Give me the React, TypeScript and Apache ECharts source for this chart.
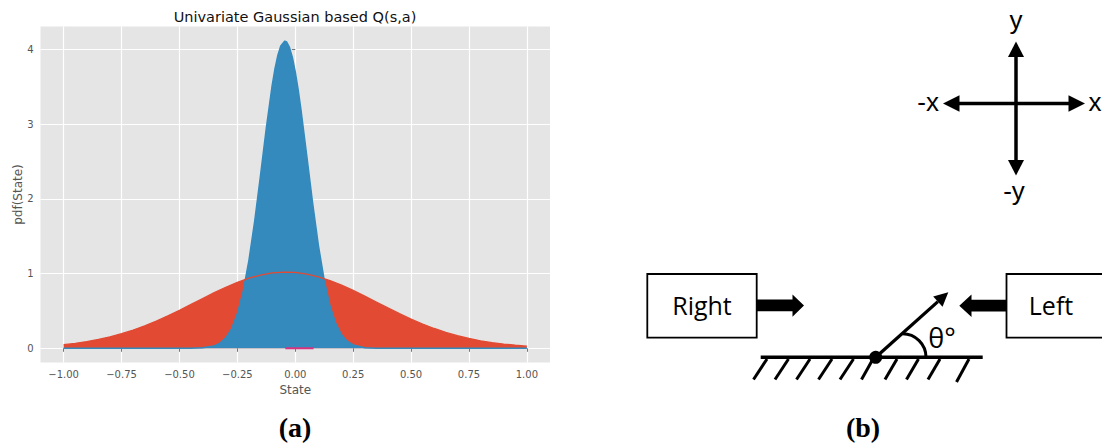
import React, { useEffect, useRef } from "react";
import * as echarts from "echarts";

// ---- Data ----
const redState = [
  -1.0, -0.95, -0.9, -0.85, -0.8, -0.75, -0.7, -0.65, -0.6, -0.55, -0.5, -0.45, -0.4, -0.35,
  -0.3, -0.25, -0.2, -0.15, -0.1, -0.05, 0.0, 0.05, 0.1, 0.15, 0.2, 0.25, 0.3, 0.35, 0.4,
  0.45, 0.5, 0.55, 0.6, 0.65, 0.7, 0.75, 0.8, 0.85, 0.9, 0.95, 1.0,
];
const redPdf = [
  0.049, 0.067, 0.09, 0.118, 0.153, 0.195, 0.244, 0.3, 0.364, 0.434, 0.508, 0.587, 0.666, 0.744,
  0.817, 0.882, 0.938, 0.98, 1.008, 1.02, 1.015, 0.993, 0.956, 0.906, 0.844, 0.774, 0.698, 0.619,
  0.54, 0.463, 0.39, 0.325, 0.265, 0.213, 0.169, 0.131, 0.1, 0.075, 0.056, 0.041, 0.029,
];
const blueState = [
  -1.0, -0.6, -0.45, -0.4, -0.35, -0.325, -0.3, -0.275, -0.25, -0.225, -0.2, -0.175, -0.15,
  -0.125, -0.1, -0.0875, -0.075, -0.0625, -0.045, -0.0375, -0.025, -0.0125, 0.0, 0.0125, 0.025,
  0.05, 0.075, 0.1, 0.125, 0.15, 0.175, 0.2, 0.225, 0.25, 0.3, 0.35, 0.4, 1.0,
];
const bluePdf = [
  0, 0, 0.001, 0.006, 0.032, 0.069, 0.139, 0.261, 0.461, 0.76, 1.177, 1.705, 2.315,
  2.945, 3.511, 3.741, 3.922, 4.045, 4.11, 4.098, 4.025, 3.89, 3.699, 3.46, 3.184,
  2.569, 1.941, 1.375, 0.912, 0.567, 0.33, 0.18, 0.092, 0.044, 0.008, 0.001, 0, 0,
];
const pinkState = [-0.043, 0.079];
const pinkPdf = [0, 0];

const xTickMin = -1;
const xTickMax = 1;
const xTickStep = 0.25;
const yTickMin = 0;
const yTickMax = 4;
const yTickStep = 1;

const titleText = "Univariate Gaussian based Q(s,a)";
const xName = "State";
const yName = "pdf(State)";

const RED = "#E24A33";
const BLUE = "#348ABD";
const PINK = "#D8327F";
const TICK = "#555555";
const FONT = "DejaVu Sans";

const zip = (a: number[], b: number[]) => a.map((v, i) => [v, b[i]]);

const fmtX = (v: number) => {
  const s = Math.abs(v).toFixed(2);
  return v < -1e-9 ? "\u2212" + s : s;
};

export default function App() {
  const ref = useRef<HTMLDivElement>(null);
  useEffect(() => {
    if (!ref.current) return;
    const chart = echarts.init(ref.current, undefined, { renderer: "svg" });

    const k = 3.5;
    const black = "#000";
    const hatchTop = [767, 788.5, 810, 832, 853.5, 873, 897, 918.5, 940, 969];
    const hatchBottom = [753.5, 775, 796.5, 818.5, 840, 861.5, 885, 906.5, 928, 956.5];
    const hatches = hatchTop.map((t, i) => ({
      type: "line",
      shape: { x1: t, y1: 359, x2: hatchBottom[i], y2: i === hatchTop.length - 1 ? 382 : 379.5 },
      style: { stroke: black, lineWidth: 3 },
    }));

    // angle arrow
    const ox = 875.7, oy = 357.3, tx = 948.3, ty = 292.3;
    const len = Math.hypot(tx - ox, ty - oy);
    const ux = (tx - ox) / len, uy = (ty - oy) / len;
    const hl = 14, hw = 7;
    const bx = tx - ux * hl, by = ty - uy * hl;
    const nx = -uy, ny = ux;

    const option: any = {
      animation: false,
      backgroundColor: "#ffffff",
      grid: [
        { left: 40.5, top: 26.5, width: 509.5, height: 336, show: true, backgroundColor: "#E5E5E5", borderWidth: 0, z: -1 },
        { left: 63.66, top: 26.5, width: 463.2, height: 336, show: false },
        { left: 40.5, top: 49.3, width: 509.5, height: 299, show: false },
      ],
      xAxis: [
        { gridIndex: 0, type: "value", min: -1.1, max: 1.1, show: false },
        {
          gridIndex: 1, type: "value", min: xTickMin, max: xTickMax, interval: xTickStep,
          axisLine: { show: false },
          axisTick: { show: true, length: k, lineStyle: { color: TICK, width: 0.8 } },
          axisLabel: { color: TICK, fontSize: 10, fontFamily: FONT, margin: 7, formatter: fmtX },
          splitLine: { show: true, lineStyle: { color: "#ffffff", width: 1.2 } },
          name: xName, nameLocation: "middle", nameGap: 20,
          nameTextStyle: { color: TICK, fontSize: 12, fontFamily: FONT },
        },
        { gridIndex: 2, type: "value", min: -1.1, max: 1.1, show: false },
      ],
      yAxis: [
        {
          gridIndex: 0, type: "value", min: -0.19, max: 4.305,
          axisLine: { show: false }, axisTick: { show: false }, axisLabel: { show: false },
          splitLine: { show: false },
          name: yName, nameLocation: "middle", nameGap: 17,
          nameTextStyle: { color: TICK, fontSize: 12, fontFamily: FONT },
        },
        { gridIndex: 1, type: "value", min: -0.19, max: 4.305, show: false },
        {
          gridIndex: 2, type: "value", min: yTickMin, max: yTickMax, interval: yTickStep,
          axisLine: { show: false },
          axisTick: { show: true, length: k, lineStyle: { color: TICK, width: 0.8 } },
          axisLabel: { color: TICK, fontSize: 10, fontFamily: FONT, margin: 7 },
          splitLine: { show: true, lineStyle: { color: "#ffffff", width: 1.2 } },
        },
      ],
      series: [
        {
          type: "line", xAxisIndex: 1, yAxisIndex: 1, data: zip(redState, redPdf),
          symbol: "none", lineStyle: { width: 0, color: RED }, itemStyle: { color: RED },
          areaStyle: { color: RED, opacity: 1 }, z: 2, silent: true,
        },
        {
          type: "line", xAxisIndex: 1, yAxisIndex: 1, data: zip(blueState, bluePdf),
          symbol: "none", lineStyle: { width: 1.5, color: BLUE }, itemStyle: { color: BLUE },
          areaStyle: { color: BLUE, opacity: 1 }, z: 3, silent: true,
        },
        {
          type: "line", xAxisIndex: 1, yAxisIndex: 1, data: zip(redState, redPdf),
          symbol: "none", lineStyle: { width: 1.3, color: RED }, itemStyle: { color: RED },
          z: 4, silent: true,
        },
        {
          type: "line", xAxisIndex: 1, yAxisIndex: 1, data: zip(pinkState, pinkPdf),
          symbol: "none", lineStyle: { width: 2, color: PINK }, itemStyle: { color: PINK },
          z: 5, silent: true,
        },
      ],
      graphic: {
        elements: [
          { type: "text", x: 295, y: 16.5, style: { text: titleText, font: `14.5px "${FONT}"`, fill: "#111", textAlign: "center", textVerticalAlign: "middle" } },
          { type: "text", x: 295, y: 427, style: { text: "(a)", font: 'bold 28px "Liberation Serif"', fill: "#000", textAlign: "center", textVerticalAlign: "middle" } },
          { type: "text", x: 863, y: 427, style: { text: "(b)", font: 'bold 28px "Liberation Serif"', fill: "#000", textAlign: "center", textVerticalAlign: "middle" } },

          // crosshair
          { type: "line", shape: { x1: 1016, y1: 52, x2: 1016, y2: 165 }, style: { stroke: black, lineWidth: 3.5 } },
          { type: "line", shape: { x1: 953, y1: 103.5, x2: 1075, y2: 103.5 }, style: { stroke: black, lineWidth: 3.5 } },
          { type: "polygon", shape: { points: [[1016, 41.5], [1008, 57], [1024, 57]] }, style: { fill: black } },
          { type: "polygon", shape: { points: [[1016, 175.5], [1008, 160], [1024, 160]] }, style: { fill: black } },
          { type: "polygon", shape: { points: [[943, 103.5], [959.5, 95.2], [959.5, 111.8]] }, style: { fill: black } },
          { type: "polygon", shape: { points: [[1085, 103.5], [1068.5, 95.2], [1068.5, 111.8]] }, style: { fill: black } },
          { type: "text", x: 1016, y: 20, style: { text: "y", font: '26px "Liberation Sans"', fill: black, textAlign: "center", textVerticalAlign: "middle" } },
          { type: "text", x: 1014, y: 191, style: { text: "-y", font: '26px "Liberation Sans"', fill: black, textAlign: "center", textVerticalAlign: "middle" } },
          { type: "text", x: 939, y: 102, style: { text: "-x", font: '26px "Liberation Sans"', fill: black, textAlign: "right", textVerticalAlign: "middle" } },
          { type: "text", x: 1101.5, y: 102, style: { text: "x", font: '26px "Liberation Sans"', fill: black, textAlign: "right", textVerticalAlign: "middle" } },

          // boxes
          { type: "rect", shape: { x: 647.3, y: 274, width: 109.4, height: 63.7 }, style: { fill: "#fff", stroke: black, lineWidth: 1.8 } },
          { type: "text", x: 702, y: 305, style: { text: "Right", font: '25px "Open Sans"', fill: black, textAlign: "center", textVerticalAlign: "middle" } },
          { type: "rect", shape: { x: 1006.5, y: 274, width: 120, height: 63.7 }, style: { fill: "#fff", stroke: black, lineWidth: 1.8 } },
          { type: "text", x: 1051, y: 305, style: { text: "Left", font: '25px "Open Sans"', fill: black, textAlign: "center", textVerticalAlign: "middle" } },
          { type: "polygon", shape: { points: [[757, 299.5], [792.5, 299.5], [792.5, 294.5], [804, 305.6], [792.5, 316.8], [792.5, 311.2], [757, 311.2]] }, style: { fill: black } },
          { type: "polygon", shape: { points: [[1006, 299.8], [971.5, 299.8], [971.5, 294.5], [959.3, 305.7], [971.5, 317], [971.5, 311.4], [1006, 311.4]] }, style: { fill: black } },

          // ground
          { type: "line", shape: { x1: 760.7, y1: 357.3, x2: 982.7, y2: 357.3 }, style: { stroke: black, lineWidth: 3.5 } },
          ...hatches,
          { type: "circle", shape: { cx: ox, cy: oy, r: 6.5 }, style: { fill: black } },
          { type: "line", shape: { x1: ox, y1: oy, x2: bx, y2: by }, style: { stroke: black, lineWidth: 3.3 } },
          { type: "polygon", shape: { points: [[tx, ty], [bx + nx * hw, by + ny * hw], [bx - nx * hw, by - ny * hw]] }, style: { fill: black } },
          { type: "arc", shape: { cx: 902.5, cy: 357.3, r: 23.5, startAngle: -Math.PI / 2, endAngle: 0, clockwise: true }, style: { stroke: black, lineWidth: 3, fill: "none" } },
          { type: "text", x: 942, y: 337, style: { text: "\u03B8\u00B0", font: '27px "Open Sans"', fill: black, textAlign: "center", textVerticalAlign: "middle" } },
        ],
      },
    };
    chart.setOption(option);
    return () => chart.dispose();
  }, []);
  return (
    <div
      ref={ref}
      style={{ position: "fixed", left: 0, top: 0, width: 1102, height: 444, background: "#fff" }}
    />
  );
}
